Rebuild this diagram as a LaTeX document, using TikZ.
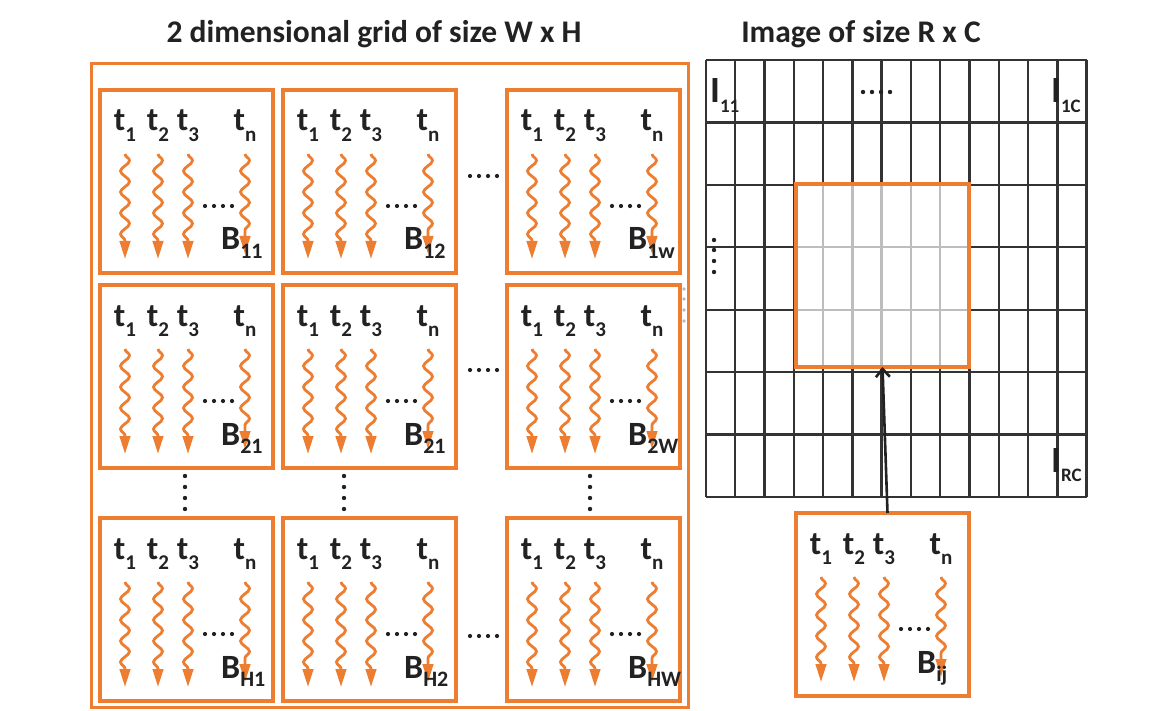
\documentclass[tikz,border=0pt]{standalone}
\usepackage{fontspec}
\setmainfont{Carlito}
\usetikzlibrary{decorations.pathmorphing,arrows.meta}
\definecolor{org}{HTML}{ED7D31}
\definecolor{ink}{HTML}{222222}
\definecolor{gridc}{HTML}{333333}
\newcommand\tsubx[1]{\raisebox{-0.33em}{\fontsize{21}{21}\selectfont\bfseries #1}}
\newcommand\bsubx[1]{\raisebox{-0.25em}{\fontsize{22}{22}\selectfont\bfseries #1}}
\newcommand\isubx[1]{\raisebox{-0.25em}{\fontsize{19}{19}\selectfont\bfseries #1}}
\newcommand\tblock[4]{%
\begin{scope}[shift={(#2,#3)}]
\node[blk] (#1) at (0,0) {};
\foreach \dx in {25,58,88} {\draw[wavy] (\dx,64) -- (\dx,169);}
\draw[wavy] (145,64) -- (145,164);
\node[tl] (#1t1) at (25,41) {t\tsubx{1}};
\node[tl] (#1t2) at (58,41) {t\tsubx{2}};
\node[tl] (#1t3) at (88,41) {t\tsubx{3}};
\node[tl] (#1tn) at (145,41) {t\tsubx{n}};
\foreach \dx in {105,114,123,132} {\fill[ink] (\dx,116) circle (2.1);}
\node[bl] (#1lab) at (121,160) {B\bsubx{#4}};
\end{scope}}
\begin{document}
\begin{tikzpicture}[x=1pt,y=-1pt,
  blk/.style={draw=org, line width=3.5pt, minimum width=173pt, minimum height=183pt,
    inner sep=0pt, outer sep=0pt, anchor=north west},
  wavy/.style={draw=org, line width=2.8pt, decorate,
    decoration={snake, amplitude=4.5pt, segment length=21pt, post length=17pt},
    -{Triangle[length=18pt,width=10.5pt]}},
  tl/.style={font=\fontsize{33}{33}\selectfont\bfseries, text=ink, anchor=base, inner sep=0pt},
  bl/.style={font=\fontsize{34}{34}\selectfont\bfseries, text=ink, anchor=base west, inner sep=0pt},
  il/.style={font=\fontsize{37}{37}\selectfont\bfseries, text=ink, anchor=base west, inner sep=0pt},
  ttl/.style={font=\fontsize{31.5}{31.5}\selectfont\bfseries, text=ink, anchor=base, inner sep=0pt},
  gline/.style={draw=gridc, line width=2.4pt}]
\useasboundingbox (0,0) rectangle (1166,711);
\fill[white] (0,0) rectangle (1166,711);
% titles
\node[ttl] (title1) at (374,43) {2 dimensional grid of size W x H};
\node[ttl] (title2) at (861,43) {Image of size R x C};
% outer frame of the 2D grid
\node[draw=org, line width=3pt, minimum width=597pt, minimum height=643pt,
  inner sep=0pt, outer sep=0pt, anchor=north west] (grid2d) at (91,64) {};
% blocks
\tblock{b11}{100}{90}{11}
\tblock{b12}{283}{90}{12}
\tblock{b1w}{507}{90}{1w}
\tblock{b21}{100}{285}{21}
\tblock{b22}{283}{285}{21}
\tblock{b2w}{507}{285}{2W}
\tblock{bh1}{100}{518}{H1}
\tblock{bh2}{283}{518}{H2}
\tblock{bhw}{507}{518}{HW}
% horizontal ellipses between columns
\foreach \yy in {176,370,636} {\foreach \xx in {470,479,488,497} {\fill[ink] (\xx,\yy) circle (2.1);}}
% vertical ellipses between rows
\foreach \xx in {185,344,590} {\foreach \yy in {476,487,498,509} {\fill[ink] (\xx,\yy) circle (2.2);}}
% small grey marks at right edge
\foreach \yy in {289,299,310,321} {\fill[gray!55] (684,\yy) circle (1.9);}
% image grid
\foreach \k in {0,...,13} {\draw[gline] ({706+\k*29.28},60) -- ({706+\k*29.28},497);}
\foreach \k in {0,...,7} {\draw[gline] (706,{60+\k*62.43}) -- (1086.6,{60+\k*62.43});}
% region of interest
\node[draw=org, line width=3.8pt, fill=white, fill opacity=0.68, minimum width=173pt,
  minimum height=183pt, inner sep=0pt, outer sep=0pt, anchor=north west] (roi) at (796,184) {};
% grid labels
\node[il] (i11) at (710,103) {I\isubx{11}};
\node[il] (i1c) at (1051,103) {I\isubx{1C}};
\node[il] (irc) at (1051,472) {I\isubx{RC}};
\foreach \xx in {863,872,881,890} {\fill[ink] (\xx,92) circle (2.2);}
\foreach \yy in {240,250,261,272} {\fill[ink] (714,\yy) circle (2.2);}
% block of interest
\tblock{bij}{796}{513}{ij}
\draw[ink, line width=2.6pt, -{Straight Barb[length=8pt,width=14pt]}]
  ([xshift=5pt]bij.north) -- (roi.south);
\end{tikzpicture}
\end{document}
